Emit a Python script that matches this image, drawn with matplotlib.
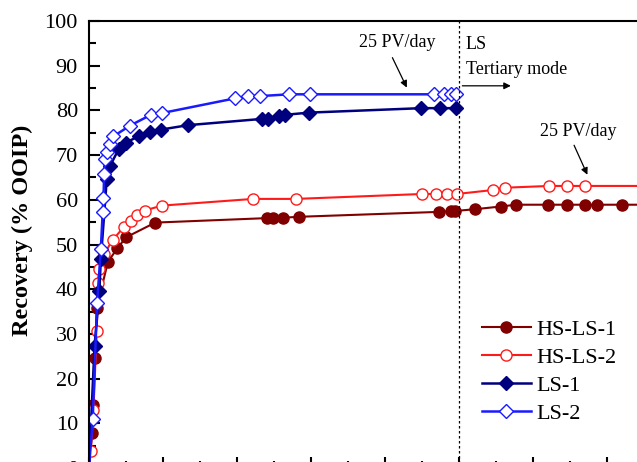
import matplotlib
matplotlib.use("Agg")
import matplotlib.pyplot as plt
from matplotlib.ticker import MultipleLocator

plt.rcParams["font.family"] = ["Liberation Serif", "DejaVu Serif"]

# pore volumes injected vs recovery (% OOIP)
hs1_x = [0, 0.08, 0.1, 0.17, 0.21, 0.51, 0.77, 1.0, 1.79, 4.80, 4.98, 5.25, 5.68,
         9.47, 9.78, 9.90, 10.44, 11.13, 11.54, 12.41, 12.93, 13.41, 13.74, 14.41, 15.2]
hs1_y = [0, 7.9, 14.0, 24.6, 35.8, 46.1, 49.2, 51.6, 54.9, 55.9, 55.9, 56.0, 56.2,
         57.3, 57.5, 57.5, 57.9, 58.5, 58.9, 58.9, 58.9, 58.9, 58.9, 58.9, 58.9]

hs2_x = [0, 0.05, 0.12, 0.21, 0.24, 0.28, 0.41, 0.64, 0.95, 1.13, 1.31, 1.50, 1.97,
         4.44, 5.59, 9.0, 9.38, 9.67, 9.94, 10.93, 11.23, 12.44, 12.91, 13.41, 15.3]
hs2_y = [0, 3.7, 13.0, 30.6, 41.3, 44.6, 47.9, 51.0, 54.0, 55.2, 56.7, 57.6, 58.7,
         60.2, 60.2, 61.3, 61.3, 61.3, 61.3, 62.2, 62.7, 63.1, 63.1, 63.1, 63.1]

ls1_x = [0, 0.15, 0.28, 0.32, 0.48, 0.57, 0.80, 1.0, 1.36, 1.65, 1.94, 2.68,
         4.68, 4.84, 5.13, 5.29, 5.94, 8.98, 9.49, 9.92]
ls1_y = [0, 27.3, 39.6, 46.7, 64.6, 67.6, 71.3, 72.8, 74.3, 75.2, 75.7, 76.7,
         78.1, 78.1, 78.7, 79.0, 79.5, 80.5, 80.5, 80.5]

ls2_x = [0, 0.1, 0.22, 0.32, 0.37, 0.39, 0.41, 0.44, 0.49, 0.57, 0.66, 1.11, 1.67,
         1.97, 3.95, 4.30, 4.62, 5.41, 5.97, 9.32, 9.59, 9.78, 9.92]
ls2_y = [0, 10.9, 37.0, 49.0, 57.3, 60.3, 65.7, 69.1, 70.8, 72.5, 74.2, 76.6, 79.0,
         79.4, 82.7, 83.2, 83.2, 83.6, 83.6, 83.6, 83.6, 83.6, 83.6]

TERTIARY_PV = 10.0

fig = plt.figure(figsize=(6.37, 4.62), dpi=100)
# axes runs past the right and bottom edges (the reference is a crop)
ax = fig.add_axes([89 / 637, -6 / 462, 592 / 637, 447 / 462])

ax.plot(hs1_x, hs1_y, "-o", color="#800000", lw=1.5, ms=8,
        mfc="#800000", mec="#800000", label="HS-LS-1")
ax.plot(hs2_x, hs2_y, "-o", color="#ff1a1a", lw=1.5, ms=8,
        mfc="white", mec="#ff1a1a", mew=1.0, label="HS-LS-2")
ax.plot(ls1_x, ls1_y, "-D", color="#00007f", lw=1.8, ms=6.8,
        mfc="#00007f", mec="#00007f", label="LS-1")
ax.plot(ls2_x, ls2_y, "-D", color="#1a1aff", lw=1.8, ms=6.8,
        mfc="white", mec="#1a1aff", mew=1.0, label="LS-2")

ax.axvline(TERTIARY_PV, color="k", ls=(0, (2, 2)), lw=0.9)

ax.set_xlim(0, 16)
ax.set_ylim(0, 100)
ax.xaxis.set_major_locator(MultipleLocator(2))
ax.xaxis.set_minor_locator(MultipleLocator(1))
ax.yaxis.set_major_locator(MultipleLocator(10))
ax.yaxis.set_minor_locator(MultipleLocator(5))
ax.tick_params(which="both", direction="in", width=1.5, labelsize=16,
               top=False, right=False, pad=8)
ax.tick_params(axis="x", labelbottom=False)
ax.tick_params(which="major", length=8)
ax.tick_params(which="minor", length=5)
for s in ax.spines.values():
    s.set_linewidth(1.5)

ax.set_ylabel("Recovery (% OOIP)", fontsize=17.5, fontweight="bold")
ax.yaxis.set_label_coords(-0.094, 0.532)

arrow = dict(arrowstyle="-|>", color="k", lw=0.9, shrinkA=0, shrinkB=0,
             mutation_scale=10)
ax.text(8.32, 95.1, "25 PV/day", ha="center", va="center", fontsize=13)
ax.annotate("", xy=(8.59, 85.1), xytext=(8.2, 91.8), arrowprops=arrow)
ax.text(13.22, 75.3, "25 PV/day", ha="center", va="center", fontsize=13)
ax.annotate("", xy=(13.47, 65.6), xytext=(13.11, 72.2), arrowprops=arrow)
ax.text(10.18, 94.7, "LS", ha="left", va="center", fontsize=13)
ax.text(10.18, 89.1, "Tertiary mode", ha="left", va="center", fontsize=13)
ax.annotate("", xy=(11.4, 85.5), xytext=(10.09, 85.5), arrowprops=arrow)

ax.legend(loc="upper left", bbox_to_anchor=(482 / 637, 1 - 319 / 462),
          bbox_transform=fig.transFigure, frameon=False, fontsize=16,
          handlelength=2.2, handletextpad=0.25, labelspacing=0.34,
          borderpad=0, borderaxespad=0)

fig.savefig("out.png", dpi=100)
